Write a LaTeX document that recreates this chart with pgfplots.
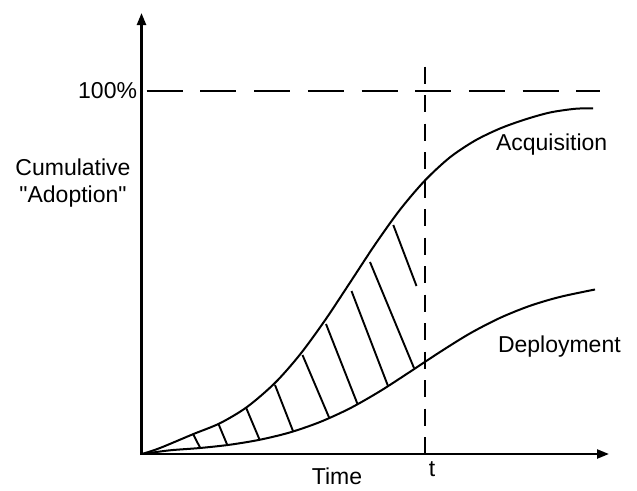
\documentclass[border=0pt]{standalone}
\usepackage{pgfplots}
\pgfplotsset{compat=1.18}
\usepackage{fontspec}
\newfontfamily\lib{Liberation Sans}
\usetikzlibrary{arrows.meta}
\tikzset{lbl/.style={font=\lib\fontsize{23}{27}\selectfont, inner sep=0pt, outer sep=0pt}}
\begin{document}
\begin{tikzpicture}
\begin{axis}[scale only axis, width=637pt, height=490pt,
  xmin=0, xmax=637, ymin=0, ymax=490, y dir=reverse,
  hide axis, clip=false]
% bounding frame
\addplot[draw=none, forget plot] coordinates {(0,0) (637,490)};
% axes
\addplot[line width=2.3pt, -{Triangle[length=12pt,width=9pt]}] coordinates {(141.5,455) (141.5,13)};
\addplot[line width=2.3pt, -{Triangle[length=12pt,width=9pt]}] coordinates {(140.4,454) (609,454)};
% 100% dashed line
\addplot[line width=2.3pt, dash pattern=on 36pt off 17.7pt] coordinates {(146.7,90.7) (599.7,90.7)};
% t dashed line
\addplot[line width=2.4pt, dash pattern=on 17pt off 11.5pt] coordinates {(425,66.7) (425,454)};
% Acquisition
\addplot[line width=2pt, smooth] coordinates {
(142,454) (160,448) (193,434.2) (220,423.2) (247,407) (275,382.9) (300,354.5)
(325,320.3) (350,282.6) (375,244.6) (400,209.7) (425,180.4) (450,157.3)
(475,140.6) (500,128.5) (525,119.5) (550,112.5) (575,108.8) (593,108.3)};
% Deployment
\addplot[line width=2pt, smooth] coordinates {
(142,454) (170,450.3) (200,448) (230,444.7) (260,439.7) (290,432.4) (320,422)
(350,408.3) (380,391.2) (410,371.8) (440,352) (470,333.4) (500,317.9)
(530,305.8) (560,296.9) (595,289.5)};
% hatching
\addplot[line width=1.9pt, unbounded coords=jump] coordinates {
(193.3,434.5) (200,447.5) (nan,nan)
(218.3,423.5) (227.3,445) (nan,nan)
(246,407.5) (259.5,439.5) (nan,nan)
(275,385) (293,431) (nan,nan)
(302.5,355) (329.3,418) (nan,nan)
(326,324) (357.5,404) (nan,nan)
(351.5,291) (388,386) (nan,nan)
(370,262) (414,368) (nan,nan)
(393.3,225) (416.5,286)};
% labels
\node[lbl, anchor=base east] at (axis cs:137,98) {100\%};
\node[lbl, anchor=base] at (axis cs:73,175) {Cumulative};
\node[lbl, anchor=base] at (axis cs:73,202) {"Adoption"};
\node[lbl, anchor=base west] at (axis cs:496,150) {Acquisition};
\node[lbl, anchor=base west] at (axis cs:498,352) {Deployment};
\node[lbl, anchor=base] at (axis cs:337,484) {Time};
\node[lbl, anchor=base] at (axis cs:432,476) {t};
\end{axis}
\end{tikzpicture}
\end{document}
